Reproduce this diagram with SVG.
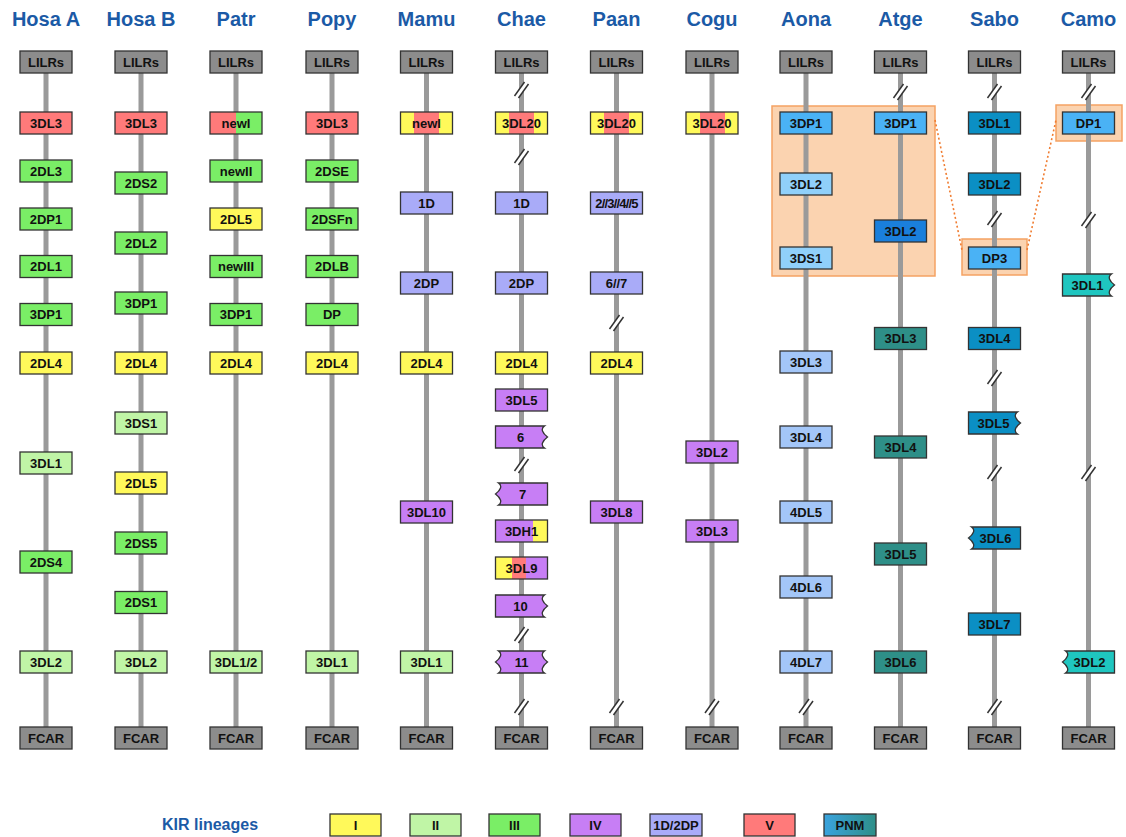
<svg xmlns="http://www.w3.org/2000/svg" width="1126" height="837" viewBox="0 0 1126 837">
<style>
text{font-family:"Liberation Sans",Arial,sans-serif;font-weight:bold;font-size:13px;text-anchor:middle;fill:#111}
.h{font-size:20px;fill:#1b5aa6}
.lg{font-size:16px;fill:#1b5aa6;text-anchor:start}
rect,path{stroke:#333;stroke-width:1.3}
.bg{fill:#fff;stroke:none}
.gr{fill:#8c8c8c}.v{fill:#ff7a7a}.i{fill:#fff95a}.ii{fill:#c0f5a6}.iii{fill:#7aee66}.iv{fill:#c77ef5}.d{fill:#a9abf8}
.bb{fill:#4ab2f5}.lb{fill:#90d0fa}.pw{fill:#a3c6f8}.db{fill:#1a7fdc}.tl{fill:#2e8f88}.ce{fill:#0b8fc4}.tq{fill:#1fc6c0}
.line{stroke:#9a9a9a;stroke-width:5}
.hl{fill:#fbd3b0;stroke:#f5a263;stroke-width:1.5}
.dot{stroke:#f07c30;stroke-width:1.6;stroke-dasharray:2 2.5;fill:none}
</style>
<defs>
<linearGradient id="gVIII" x1="0" x2="1" y1="0" y2="0"><stop offset="0.5" stop-color="#ff7a7a"/><stop offset="0.5" stop-color="#7aee66"/></linearGradient>
<linearGradient id="gIVI" x1="0" x2="1" y1="0" y2="0"><stop offset="0.26" stop-color="#fff95a"/><stop offset="0.26" stop-color="#ff7a7a"/><stop offset="0.75" stop-color="#ff7a7a"/><stop offset="0.75" stop-color="#fff95a"/></linearGradient>
<linearGradient id="gH1" x1="0" x2="1" y1="0" y2="0"><stop offset="0.72" stop-color="#c77ef5"/><stop offset="0.72" stop-color="#fff95a"/></linearGradient>
<linearGradient id="gL9" x1="0" x2="1" y1="0" y2="0"><stop offset="0.31" stop-color="#fff95a"/><stop offset="0.31" stop-color="#ff7a7a"/><stop offset="0.59" stop-color="#ff7a7a"/><stop offset="0.59" stop-color="#c77ef5"/></linearGradient>
<linearGradient id="gPNM" x1="0" x2="1" y1="0" y2="0"><stop offset="0" stop-color="#3aa3de"/><stop offset="1" stop-color="#2e8f88"/></linearGradient>
<g id="brk"><polygon points="-7,6 3,-8 7,-6 -3,8" fill="#fff" stroke="none"/><line x1="-7" y1="6" x2="3" y2="-8" stroke="#333" stroke-width="1.5"/><line x1="-3" y1="8" x2="7" y2="-6" stroke="#333" stroke-width="1.5"/></g>
</defs>
<rect class="bg" width="1126" height="837"/>

<g id="headers">
<text class="h" x="46" y="26">Hosa A</text>
<text class="h" x="141" y="26">Hosa B</text>
<text class="h" x="236" y="26">Patr</text>
<text class="h" x="332" y="26">Popy</text>
<text class="h" x="426.5" y="26">Mamu</text>
<text class="h" x="521.5" y="26">Chae</text>
<text class="h" x="616.5" y="26">Paan</text>
<text class="h" x="712" y="26">Cogu</text>
<text class="h" x="806" y="26">Aona</text>
<text class="h" x="900.5" y="26">Atge</text>
<text class="h" x="994.5" y="26">Sabo</text>
<text class="h" x="1088.5" y="26">Camo</text>
</g>

<g id="highlights">
<rect class="hl" x="772" y="106" width="163" height="170"/>
<rect class="hl" x="962" y="239" width="65" height="36"/>
<rect class="hl" x="1056" y="105" width="66" height="36"/>
</g>

<g id="connectors">
<line class="line" x1="46" y1="73" x2="46" y2="727"/>
<line class="line" x1="141" y1="73" x2="141" y2="727"/>
<line class="line" x1="236" y1="73" x2="236" y2="727"/>
<line class="line" x1="332" y1="73" x2="332" y2="727"/>
<line class="line" x1="426.5" y1="73" x2="426.5" y2="727"/>
<line class="line" x1="521.5" y1="73" x2="521.5" y2="727"/>
<line class="line" x1="616.5" y1="73" x2="616.5" y2="727"/>
<line class="line" x1="712" y1="73" x2="712" y2="727"/>
<line class="line" x1="806" y1="73" x2="806" y2="727"/>
<line class="line" x1="900.5" y1="73" x2="900.5" y2="727"/>
<line class="line" x1="994.5" y1="73" x2="994.5" y2="727"/>
<line class="line" x1="1088.5" y1="73" x2="1088.5" y2="727"/>
<use href="#brk" x="521.5" y="90"/><use href="#brk" x="521.5" y="157"/><use href="#brk" x="521.5" y="465"/><use href="#brk" x="521.5" y="635"/><use href="#brk" x="521.5" y="707"/>
<use href="#brk" x="616.5" y="323"/><use href="#brk" x="616.5" y="707"/>
<use href="#brk" x="712" y="707"/>
<use href="#brk" x="806" y="707"/>
<use href="#brk" x="900.5" y="92"/>
<use href="#brk" x="994.5" y="92"/><use href="#brk" x="994.5" y="219"/><use href="#brk" x="994.5" y="378"/><use href="#brk" x="994.5" y="473"/><use href="#brk" x="994.5" y="707"/>
<use href="#brk" x="1088.5" y="92"/><use href="#brk" x="1088.5" y="220"/><use href="#brk" x="1088.5" y="473"/>
<line class="dot" x1="935" y1="120" x2="962" y2="250"/>
<line class="dot" x1="1027" y1="250" x2="1056" y2="120"/>
</g>

<g id="n-hosaA">
<g id="hosaA-LILRs"><rect class="gr" x="20" y="51" width="52" height="22"/><text x="46" y="66.5">LILRs</text></g>
<g id="hosaA-3DL3"><rect class="v" x="20" y="112" width="52" height="22"/><text x="46" y="127.5">3DL3</text></g>
<g id="hosaA-2DL3"><rect class="iii" x="20" y="160" width="52" height="22"/><text x="46" y="175.5">2DL3</text></g>
<g id="hosaA-2DP1"><rect class="iii" x="20" y="208" width="52" height="22"/><text x="46" y="223.5">2DP1</text></g>
<g id="hosaA-2DL1"><rect class="iii" x="20" y="255.5" width="52" height="22"/><text x="46" y="271">2DL1</text></g>
<g id="hosaA-3DP1"><rect class="iii" x="20" y="303.5" width="52" height="22"/><text x="46" y="319">3DP1</text></g>
<g id="hosaA-2DL4"><rect class="i" x="20" y="352" width="52" height="22"/><text x="46" y="367.5">2DL4</text></g>
<g id="hosaA-3DL1"><rect class="ii" x="20" y="452" width="52" height="22"/><text x="46" y="467.5">3DL1</text></g>
<g id="hosaA-2DS4"><rect class="iii" x="20" y="551" width="52" height="22"/><text x="46" y="566.5">2DS4</text></g>
<g id="hosaA-3DL2"><rect class="ii" x="20" y="651" width="52" height="22"/><text x="46" y="666.5">3DL2</text></g>
<g id="hosaA-FCAR"><rect class="gr" x="20" y="727" width="52" height="22"/><text x="46" y="742.5">FCAR</text></g>
</g>

<g id="n-hosaB">
<g id="hosaB-LILRs"><rect class="gr" x="115" y="51" width="52" height="22"/><text x="141" y="66.5">LILRs</text></g>
<g id="hosaB-3DL3"><rect class="v" x="115" y="112" width="52" height="22"/><text x="141" y="127.5">3DL3</text></g>
<g id="hosaB-2DS2"><rect class="iii" x="115" y="172" width="52" height="22"/><text x="141" y="187.5">2DS2</text></g>
<g id="hosaB-2DL2"><rect class="iii" x="115" y="232" width="52" height="22"/><text x="141" y="247.5">2DL2</text></g>
<g id="hosaB-3DP1"><rect class="iii" x="115" y="292" width="52" height="22"/><text x="141" y="307.5">3DP1</text></g>
<g id="hosaB-2DL4"><rect class="i" x="115" y="352" width="52" height="22"/><text x="141" y="367.5">2DL4</text></g>
<g id="hosaB-3DS1"><rect class="ii" x="115" y="412" width="52" height="22"/><text x="141" y="427.5">3DS1</text></g>
<g id="hosaB-2DL5"><rect class="i" x="115" y="472" width="52" height="22"/><text x="141" y="487.5">2DL5</text></g>
<g id="hosaB-2DS5"><rect class="iii" x="115" y="532" width="52" height="22"/><text x="141" y="547.5">2DS5</text></g>
<g id="hosaB-2DS1"><rect class="iii" x="115" y="591.5" width="52" height="22"/><text x="141" y="607">2DS1</text></g>
<g id="hosaB-3DL2"><rect class="ii" x="115" y="651" width="52" height="22"/><text x="141" y="666.5">3DL2</text></g>
<g id="hosaB-FCAR"><rect class="gr" x="115" y="727" width="52" height="22"/><text x="141" y="742.5">FCAR</text></g>
</g>

<g id="n-patr">
<g id="patr-LILRs"><rect class="gr" x="210" y="51" width="52" height="22"/><text x="236" y="66.5">LILRs</text></g>
<g id="patr-newI"><rect fill="url(#gVIII)" x="210" y="112" width="52" height="22"/><text x="236" y="127.5">newI</text></g>
<g id="patr-newII"><rect class="iii" x="210" y="160" width="52" height="22"/><text x="236" y="175.5">newII</text></g>
<g id="patr-2DL5"><rect class="i" x="210" y="208" width="52" height="22"/><text x="236" y="223.5">2DL5</text></g>
<g id="patr-newIII"><rect class="iii" x="210" y="255.5" width="52" height="22"/><text x="236" y="271">newIII</text></g>
<g id="patr-3DP1"><rect class="iii" x="210" y="303.5" width="52" height="22"/><text x="236" y="319">3DP1</text></g>
<g id="patr-2DL4"><rect class="i" x="210" y="352" width="52" height="22"/><text x="236" y="367.5">2DL4</text></g>
<g id="patr-3DL12"><rect class="ii" x="210" y="651" width="52" height="22"/><text x="236" y="666.5">3DL1/2</text></g>
<g id="patr-FCAR"><rect class="gr" x="210" y="727" width="52" height="22"/><text x="236" y="742.5">FCAR</text></g>
</g>

<g id="n-popy">
<g id="popy-LILRs"><rect class="gr" x="306" y="51" width="52" height="22"/><text x="332" y="66.5">LILRs</text></g>
<g id="popy-3DL3"><rect class="v" x="306" y="112" width="52" height="22"/><text x="332" y="127.5">3DL3</text></g>
<g id="popy-2DSE"><rect class="iii" x="306" y="160" width="52" height="22"/><text x="332" y="175.5">2DSE</text></g>
<g id="popy-2DSFn"><rect class="iii" x="306" y="208" width="52" height="22"/><text x="332" y="223.5">2DSFn</text></g>
<g id="popy-2DLB"><rect class="iii" x="306" y="255.5" width="52" height="22"/><text x="332" y="271">2DLB</text></g>
<g id="popy-DP"><rect class="iii" x="306" y="303.5" width="52" height="22"/><text x="332" y="319">DP</text></g>
<g id="popy-2DL4"><rect class="i" x="306" y="352" width="52" height="22"/><text x="332" y="367.5">2DL4</text></g>
<g id="popy-3DL1"><rect class="ii" x="306" y="651" width="52" height="22"/><text x="332" y="666.5">3DL1</text></g>
<g id="popy-FCAR"><rect class="gr" x="306" y="727" width="52" height="22"/><text x="332" y="742.5">FCAR</text></g>
</g>

<g id="n-mamu">
<g id="mamu-LILRs"><rect class="gr" x="400.5" y="51" width="52" height="22"/><text x="426.5" y="66.5">LILRs</text></g>
<g id="mamu-newI"><rect fill="url(#gIVI)" x="400.5" y="112" width="52" height="22"/><text x="426.5" y="127.5">newI</text></g>
<g id="mamu-1D"><rect class="d" x="400.5" y="192" width="52" height="22"/><text x="426.5" y="207.5">1D</text></g>
<g id="mamu-2DP"><rect class="d" x="400.5" y="272" width="52" height="22"/><text x="426.5" y="287.5">2DP</text></g>
<g id="mamu-2DL4"><rect class="i" x="400.5" y="352" width="52" height="22"/><text x="426.5" y="367.5">2DL4</text></g>
<g id="mamu-3DL10"><rect class="iv" x="400.5" y="501" width="52" height="22"/><text x="426.5" y="516.5">3DL10</text></g>
<g id="mamu-3DL1"><rect class="ii" x="400.5" y="651" width="52" height="22"/><text x="426.5" y="666.5">3DL1</text></g>
<g id="mamu-FCAR"><rect class="gr" x="400.5" y="727" width="52" height="22"/><text x="426.5" y="742.5">FCAR</text></g>
</g>

<g id="n-chae">
<g id="chae-LILRs"><rect class="gr" x="495.5" y="51" width="52" height="22"/><text x="521.5" y="66.5">LILRs</text></g>
<g id="chae-3DL20"><rect fill="url(#gIVI)" x="495.5" y="112" width="52" height="22"/><text x="521.5" y="127.5">3DL20</text></g>
<g id="chae-1D"><rect class="d" x="495.5" y="192" width="52" height="22"/><text x="521.5" y="207.5">1D</text></g>
<g id="chae-2DP"><rect class="d" x="495.5" y="272" width="52" height="22"/><text x="521.5" y="287.5">2DP</text></g>
<g id="chae-2DL4"><rect class="i" x="495.5" y="352" width="52" height="22"/><text x="521.5" y="367.5">2DL4</text></g>
<g id="chae-3DL5"><rect class="iv" x="495.5" y="389" width="52" height="22"/><text x="521.5" y="404.5">3DL5</text></g>
<g id="chae-6"><path class="iv" d="M495.5 426h49q-3 2 -2 5q1 3 5 6q-4 3 -5 6q-1 3 2 5h-49z"/><text x="520.5" y="441.5">6</text></g>
<g id="chae-7"><path class="iv" d="M547.5 483h-49q3 2 2 5q-1 3 -5 6q4 3 5 6q1 3 -2 5h49z"/><text x="522.5" y="498.5">7</text></g>
<g id="chae-3DH1"><rect fill="url(#gH1)" x="495.5" y="520" width="52" height="22"/><text x="521.5" y="535.5">3DH1</text></g>
<g id="chae-3DL9"><rect fill="url(#gL9)" x="495.5" y="557" width="52" height="22"/><text x="521.5" y="572.5">3DL9</text></g>
<g id="chae-10"><path class="iv" d="M495.5 595h49q-3 2 -2 5q1 3 5 6q-4 3 -5 6q-1 3 2 5h-49z"/><text x="520.5" y="610.5">10</text></g>
<g id="chae-11"><path class="iv" d="M498.5 651h46q-3 2 -2 5q1 3 5 6q-4 3 -5 6q-1 3 2 5h-46q3 -2 2 -5q-1 -3 -5 -6q4 -3 5 -6q1 -3 -2 -5z"/><text x="521.5" y="666.5">11</text></g>
<g id="chae-FCAR"><rect class="gr" x="495.5" y="727" width="52" height="22"/><text x="521.5" y="742.5">FCAR</text></g>
</g>

<g id="n-paan">
<g id="paan-LILRs"><rect class="gr" x="590.5" y="51" width="52" height="22"/><text x="616.5" y="66.5">LILRs</text></g>
<g id="paan-3DL20"><rect fill="url(#gIVI)" x="590.5" y="112" width="52" height="22"/><text x="616.5" y="127.5">3DL20</text></g>
<g id="paan-2345"><rect class="d" x="590.5" y="192" width="52" height="22"/><text x="616.5" y="207.5" style="letter-spacing:-0.8px">2//3//4//5</text></g>
<g id="paan-67"><rect class="d" x="590.5" y="272" width="52" height="22"/><text x="616.5" y="287.5">6//7</text></g>
<g id="paan-2DL4"><rect class="i" x="590.5" y="352" width="52" height="22"/><text x="616.5" y="367.5">2DL4</text></g>
<g id="paan-3DL8"><rect class="iv" x="590.5" y="501" width="52" height="22"/><text x="616.5" y="516.5">3DL8</text></g>
<g id="paan-FCAR"><rect class="gr" x="590.5" y="727" width="52" height="22"/><text x="616.5" y="742.5">FCAR</text></g>
</g>

<g id="n-cogu">
<g id="cogu-LILRs"><rect class="gr" x="686" y="51" width="52" height="22"/><text x="712" y="66.5">LILRs</text></g>
<g id="cogu-3DL20"><rect fill="url(#gIVI)" x="686" y="112" width="52" height="22"/><text x="712" y="127.5">3DL20</text></g>
<g id="cogu-3DL2"><rect class="iv" x="686" y="441" width="52" height="22"/><text x="712" y="456.5">3DL2</text></g>
<g id="cogu-3DL3"><rect class="iv" x="686" y="520" width="52" height="22"/><text x="712" y="535.5">3DL3</text></g>
<g id="cogu-FCAR"><rect class="gr" x="686" y="727" width="52" height="22"/><text x="712" y="742.5">FCAR</text></g>
</g>

<g id="n-aona">
<g id="aona-LILRs"><rect class="gr" x="780" y="51" width="52" height="22"/><text x="806" y="66.5">LILRs</text></g>
<g id="aona-3DP1"><rect class="bb" x="780" y="112" width="52" height="22"/><text x="806" y="127.5">3DP1</text></g>
<g id="aona-3DL2"><rect class="lb" x="780" y="173" width="52" height="22"/><text x="806" y="188.5">3DL2</text></g>
<g id="aona-3DS1"><rect class="lb" x="780" y="247" width="52" height="22"/><text x="806" y="262.5">3DS1</text></g>
<g id="aona-3DL3"><rect class="pw" x="780" y="351" width="52" height="22"/><text x="806" y="366.5">3DL3</text></g>
<g id="aona-3DL4"><rect class="pw" x="780" y="426" width="52" height="22"/><text x="806" y="441.5">3DL4</text></g>
<g id="aona-4DL5"><rect class="pw" x="780" y="501" width="52" height="22"/><text x="806" y="516.5">4DL5</text></g>
<g id="aona-4DL6"><rect class="pw" x="780" y="576" width="52" height="22"/><text x="806" y="591.5">4DL6</text></g>
<g id="aona-4DL7"><rect class="pw" x="780" y="651" width="52" height="22"/><text x="806" y="666.5">4DL7</text></g>
<g id="aona-FCAR"><rect class="gr" x="780" y="727" width="52" height="22"/><text x="806" y="742.5">FCAR</text></g>
</g>

<g id="n-atge">
<g id="atge-LILRs"><rect class="gr" x="874.5" y="51" width="52" height="22"/><text x="900.5" y="66.5">LILRs</text></g>
<g id="atge-3DP1"><rect class="bb" x="874.5" y="112" width="52" height="22"/><text x="900.5" y="127.5">3DP1</text></g>
<g id="atge-3DL2"><rect class="db" x="874.5" y="220" width="52" height="22"/><text x="900.5" y="235.5">3DL2</text></g>
<g id="atge-3DL3"><rect class="tl" x="874.5" y="327.5" width="52" height="22"/><text x="900.5" y="343">3DL3</text></g>
<g id="atge-3DL4"><rect class="tl" x="874.5" y="436" width="52" height="22"/><text x="900.5" y="451.5">3DL4</text></g>
<g id="atge-3DL5"><rect class="tl" x="874.5" y="543" width="52" height="22"/><text x="900.5" y="558.5">3DL5</text></g>
<g id="atge-3DL6"><rect class="tl" x="874.5" y="651" width="52" height="22"/><text x="900.5" y="666.5">3DL6</text></g>
<g id="atge-FCAR"><rect class="gr" x="874.5" y="727" width="52" height="22"/><text x="900.5" y="742.5">FCAR</text></g>
</g>

<g id="n-sabo">
<g id="sabo-LILRs"><rect class="gr" x="968.5" y="51" width="52" height="22"/><text x="994.5" y="66.5">LILRs</text></g>
<g id="sabo-3DL1"><rect class="ce" x="968.5" y="112" width="52" height="22"/><text x="994.5" y="127.5">3DL1</text></g>
<g id="sabo-3DL2"><rect class="ce" x="968.5" y="173" width="52" height="22"/><text x="994.5" y="188.5">3DL2</text></g>
<g id="sabo-DP3"><rect class="bb" x="968.5" y="247" width="52" height="22"/><text x="994.5" y="262.5">DP3</text></g>
<g id="sabo-3DL4"><rect class="ce" x="968.5" y="327.5" width="52" height="22"/><text x="994.5" y="343">3DL4</text></g>
<g id="sabo-3DL5"><path class="ce" d="M968.5 412h49q-3 2 -2 5q1 3 5 6q-4 3 -5 6q-1 3 2 5h-49z"/><text x="993.5" y="427.5">3DL5</text></g>
<g id="sabo-3DL6"><path class="ce" d="M1020.5 527h-49q3 2 2 5q-1 3 -5 6q4 3 5 6q1 3 -2 5h49z"/><text x="995.5" y="542.5">3DL6</text></g>
<g id="sabo-3DL7"><rect class="ce" x="968.5" y="613" width="52" height="22"/><text x="994.5" y="628.5">3DL7</text></g>
<g id="sabo-FCAR"><rect class="gr" x="968.5" y="727" width="52" height="22"/><text x="994.5" y="742.5">FCAR</text></g>
</g>

<g id="n-camo">
<g id="camo-LILRs"><rect class="gr" x="1062.5" y="51" width="52" height="22"/><text x="1088.5" y="66.5">LILRs</text></g>
<g id="camo-DP1"><rect class="bb" x="1062.5" y="112" width="52" height="22"/><text x="1088.5" y="127.5">DP1</text></g>
<g id="camo-3DL1"><path class="tq" d="M1062.5 274h49q-3 2 -2 5q1 3 5 6q-4 3 -5 6q-1 3 2 5h-49z"/><text x="1087.5" y="289.5">3DL1</text></g>
<g id="camo-3DL2"><path class="tq" d="M1114.5 651h-49q3 2 2 5q-1 3 -5 6q4 3 5 6q1 3 -2 5h49z"/><text x="1089.5" y="666.5">3DL2</text></g>
<g id="camo-FCAR"><rect class="gr" x="1062.5" y="727" width="52" height="22"/><text x="1088.5" y="742.5">FCAR</text></g>
</g>

<g id="legend">
<text class="lg" x="162" y="830">KIR lineages</text>
<g id="leg-I"><rect class="i" x="330" y="814" width="51" height="22"/><text x="355.5" y="829.5">I</text></g>
<g id="leg-II"><rect class="ii" x="410" y="814" width="51" height="22"/><text x="435.5" y="829.5">II</text></g>
<g id="leg-III"><rect class="iii" x="489" y="814" width="51" height="22"/><text x="514.5" y="829.5">III</text></g>
<g id="leg-IV"><rect class="iv" x="570" y="814" width="51" height="22"/><text x="595.5" y="829.5">IV</text></g>
<g id="leg-1D2DP"><rect class="d" x="650" y="814" width="52" height="22"/><text x="676" y="829.5">1D/2DP</text></g>
<g id="leg-V"><rect class="v" x="744" y="814" width="51" height="22"/><text x="769.5" y="829.5">V</text></g>
<g id="leg-PNM"><rect fill="url(#gPNM)" x="824" y="814" width="52" height="22"/><text x="850" y="829.5">PNM</text></g>
</g>
</svg>
